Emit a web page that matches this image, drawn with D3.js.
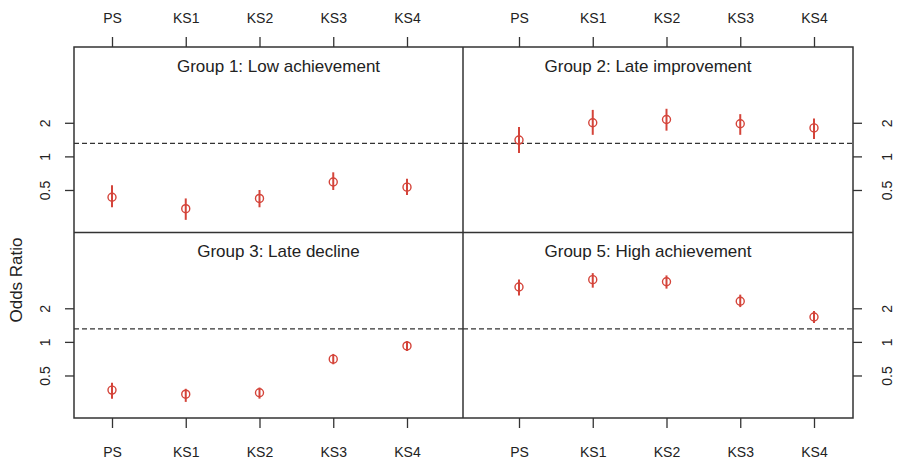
<!DOCTYPE html>
<html>
<head>
<meta charset="utf-8">
<script src="https://cdn.jsdelivr.net/npm/d3@7"></script>
<style>
  body { margin: 0; background: #fff; }
  text { font-family: "Liberation Sans", Arial, sans-serif; fill: #222; }
</style>
</head>
<body>
<div id="chart"></div>
<script>
// data
const stages = ["PS", "KS1", "KS2", "KS3", "KS4"];
const groups = ["Group 1: Low achievement", "Group 2: Late improvement",
                "Group 3: Late decline", "Group 5: High achievement"];

const or1 = [0.43, 0.34, 0.42, 0.59, 0.53];
const lo1 = [0.35, 0.27, 0.35, 0.50, 0.45];
const hi1 = [0.55, 0.42, 0.50, 0.72, 0.63];

const or2 = [1.40, 2.00, 2.14, 1.96, 1.80];
const lo2 = [1.07, 1.56, 1.70, 1.56, 1.43];
const hi2 = [1.83, 2.61, 2.67, 2.39, 2.19];

const or3 = [0.37, 0.34, 0.35, 0.70, 0.92];
const lo3 = [0.31, 0.29, 0.31, 0.63, 0.83];
const hi3 = [0.43, 0.38, 0.39, 0.78, 1.02];

const or5 = [3.10, 3.61, 3.46, 2.31, 1.67];
const lo5 = [2.61, 3.06, 3.00, 2.05, 1.48];
const hi5 = [3.63, 4.13, 3.94, 2.65, 1.89];

const refLine = 1.31;
const yTicks = [0.5, 1, 2];

const width = 898, height = 460;
const frameLeft = 74, frameMid = 463, frameRight = 853;
const frameTop = 47, frameMidY = 232.5, frameBottom = 418;
const red = "#d4443a", ink = "#333";

const panels = [
  { title: groups[0], or: or1, lo: lo1, hi: hi1, col: 0, row: 0 },
  { title: groups[1], or: or2, lo: lo2, hi: hi2, col: 1, row: 0 },
  { title: groups[2], or: or3, lo: lo3, hi: hi3, col: 0, row: 1 },
  { title: groups[3], or: or5, lo: lo5, hi: hi5, col: 1, row: 1 }
];

const svg = d3.select("#chart").append("svg")
  .attr("width", width)
  .attr("height", height);

svg.append("rect").attr("width", width).attr("height", height).attr("fill", "#fff");

const colX = [frameLeft, frameMid], colW = [frameMid - frameLeft, frameRight - frameMid];
const rowY = [frameTop, frameMidY], rowH = [frameMidY - frameTop, frameBottom - frameMidY];

// the two columns place the categories a little differently
const xPad = [[38, 56], [56, 39]];
const xScale = c => d3.scalePoint()
  .domain(stages)
  .range([xPad[c][0], colW[c] - xPad[c][1]]);

const yScale = r => d3.scaleLog()
  .domain([0.208, 9.55])
  .range([rowH[r], 0]);

panels.forEach(p => {
  const x = xScale(p.col), y = yScale(p.row);
  const g = svg.append("g")
    .attr("transform", `translate(${colX[p.col]},${rowY[p.row]})`);

  g.append("line")
    .attr("x1", 0).attr("x2", colW[p.col])
    .attr("y1", y(refLine)).attr("y2", y(refLine))
    .attr("stroke", "#333").attr("stroke-width", 1.3)
    .attr("stroke-dasharray", "5,3");

  g.append("text")
    .attr("x", colW[p.col] / 2 + (p.col ? -10 : 10))
    .attr("y", 19)
    .attr("dy", "0.35em")
    .attr("text-anchor", "middle")
    .attr("font-size", 17)
    .text(p.title);

  const pts = stages.map((s, i) => ({ s, v: p.or[i], lo: p.lo[i], hi: p.hi[i] }));

  g.append("g")
    .attr("stroke", red).attr("stroke-width", 2)
    .selectAll("line")
    .data(pts)
    .join("line")
    .attr("x1", d => x(d.s)).attr("x2", d => x(d.s))
    .attr("y1", d => y(d.lo)).attr("y2", d => y(d.hi));

  g.append("g")
    .attr("stroke", red).attr("stroke-width", 1.4).attr("fill", "none")
    .selectAll("circle")
    .data(pts)
    .join("circle")
    .attr("cx", d => x(d.s)).attr("cy", d => y(d.v))
    .attr("r", 4);

  // y axis: left side for column 0, right side for column 1
  const axis = p.col === 0 ? d3.axisLeft(y) : d3.axisRight(y);
  const ax = g.append("g")
    .attr("transform", p.col === 0 ? "translate(0,0)" : `translate(${colW[1]},0)`)
    .call(axis.tickValues(yTicks).tickFormat(d3.format("")).tickSize(9).tickPadding(12))
    .call(a => a.select(".domain").remove());
  ax.selectAll(".tick line").attr("stroke", ink).attr("stroke-width", 1.3);
  ax.selectAll(".tick text")
    .attr("font-size", 14)
    .attr("font-family", "Liberation Sans, Arial, sans-serif")
    .attr("fill", "#222")
    .attr("text-anchor", "middle")
    .attr("dy", null)
    .attr("transform", function () {
      const xx = +d3.select(this).attr("x");
      const cx = p.col === 0 ? xx - 8 : xx + 13;
      d3.select(this).attr("x", 0).attr("y", 0);
      return `translate(${cx},0) rotate(-90) translate(0,5)`;
    });

  // x axis: top for row 0, bottom for row 1
  const xa = p.row === 0 ? d3.axisTop(x) : d3.axisBottom(x);
  const xg = g.append("g")
    .attr("transform", p.row === 0 ? "translate(0,0)" : `translate(0,${rowH[1]})`)
    .call(xa.tickSize(10).tickPadding(p.row === 0 ? 14 : 19))
    .call(a => a.select(".domain").remove());
  xg.selectAll(".tick line").attr("stroke", ink).attr("stroke-width", 1.3);
  xg.selectAll(".tick text")
    .attr("font-size", 14)
    .attr("font-family", "Liberation Sans, Arial, sans-serif")
    .attr("fill", "#222");
});

// panel frames
svg.append("rect")
  .attr("x", frameLeft).attr("y", frameTop)
  .attr("width", frameRight - frameLeft).attr("height", frameBottom - frameTop)
  .attr("fill", "none").attr("stroke", ink).attr("stroke-width", 1.5);
svg.append("line")
  .attr("x1", frameMid).attr("x2", frameMid).attr("y1", frameTop).attr("y2", frameBottom)
  .attr("stroke", ink).attr("stroke-width", 1.5);
svg.append("line")
  .attr("x1", frameLeft).attr("x2", frameRight).attr("y1", frameMidY).attr("y2", frameMidY)
  .attr("stroke", ink).attr("stroke-width", 1.5);

svg.append("text")
  .attr("transform", "translate(16,280) rotate(-90)")
  .attr("text-anchor", "middle")
  .attr("dy", "0.35em")
  .attr("font-size", 17)
  .text("Odds Ratio");
</script>
</body>
</html>
